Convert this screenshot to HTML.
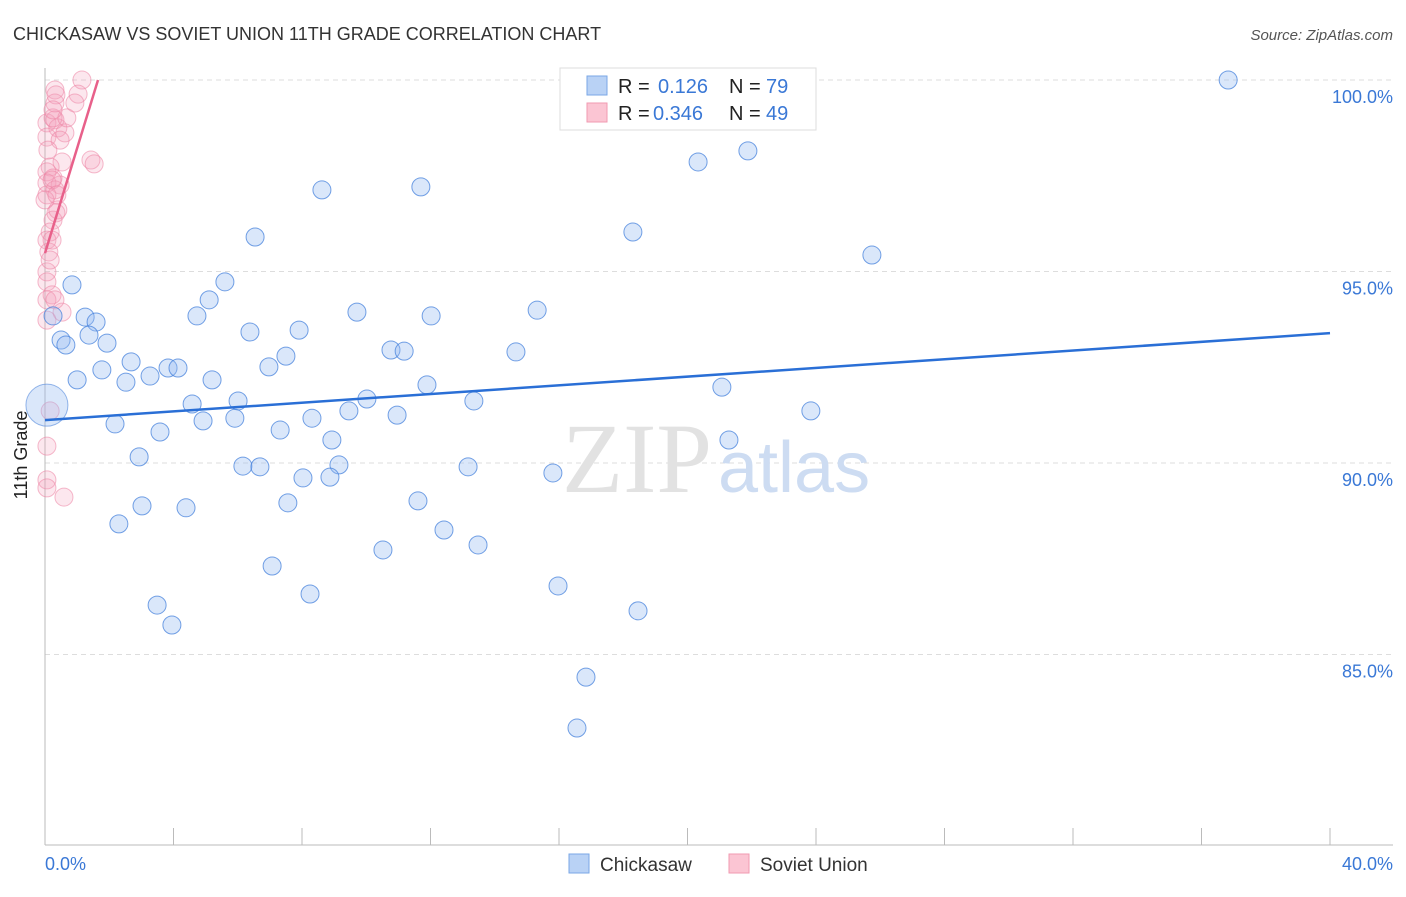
<!DOCTYPE html>
<html><head><meta charset="utf-8"><style>
body{margin:0;background:#fff;font-family:"Liberation Sans",sans-serif}
svg text{font-family:"Liberation Sans",sans-serif}
</style></head><body>
<svg width="1406" height="892" xmlns="http://www.w3.org/2000/svg">
<text x="13" y="40" font-size="18" fill="#333">CHICKASAW VS SOVIET UNION 11TH GRADE CORRELATION CHART</text>
<text x="1393" y="40" font-size="15" fill="#555" text-anchor="end" font-style="italic">Source: ZipAtlas.com</text>
<g id="grid"></g>
<text x="712" y="492" fill="#e2e2e2" text-anchor="end" style="font-family:'Liberation Serif',serif;font-size:100px">ZIP</text>
<text x="718" y="492" font-size="72" fill="#cddcf2">atlas</text>
<g id="axes"></g>
<g id="pink"></g>
<g id="blue"></g>
<g id="lines"></g>
<text x="27" y="455" font-size="18" fill="#222" text-anchor="middle" transform="rotate(-90 27 455)">11th Grade</text>
<text x="45" y="870" font-size="18" fill="#3a78d6">0.0%</text>
<text x="1393" y="870" font-size="18" fill="#3a78d6" text-anchor="end">40.0%</text>
<g>
<rect x="560" y="68" width="256" height="62" fill="#fff" stroke="#ddd"/>
<rect x="587" y="76" width="20" height="19" fill="#b9d2f5" stroke="#7aa7e6"/>
<text x="618" y="93" font-size="20" fill="#222">R =</text><text x="658" y="93" font-size="20" fill="#3a78d6">0.126</text>
<text x="729" y="93" font-size="20" fill="#222">N =</text><text x="766" y="93" font-size="20" fill="#3a78d6">79</text>
<rect x="587" y="103" width="20" height="19" fill="#fbc5d3" stroke="#f09ab2"/>
<text x="618" y="120" font-size="20" fill="#222">R =</text><text x="653" y="120" font-size="20" fill="#3a78d6">0.346</text>
<text x="729" y="120" font-size="20" fill="#222">N =</text><text x="766" y="120" font-size="20" fill="#3a78d6">49</text>
</g>
<g>
<rect x="569" y="854" width="20" height="19" fill="#b9d2f5" stroke="#7aa7e6"/>
<text x="600" y="871" font-size="19" fill="#333">Chickasaw</text>
<rect x="729" y="854" width="20" height="19" fill="#fbc5d3" stroke="#f09ab2"/>
<text x="760" y="871" font-size="19" fill="#333">Soviet Union</text>
</g>
</svg>
<script>
const blueX=[36.83,20.33,21.88,8.62,11.70,6.54,18.30,25.74,5.60,0.84,5.11,4.73,9.71,12.02,15.32,1.25,1.59,0.25,6.38,7.91,0.50,0.65,1.37,1.93,10.77,11.18,14.66,7.50,2.68,6.97,1.77,3.83,4.14,3.27,5.20,1.00,2.52,11.89,21.07,10.02,4.58,6.01,13.35,23.84,9.46,10.96,8.31,4.92,5.91,2.18,7.32,3.58,8.93,21.29,2.93,6.16,6.69,9.15,13.17,15.81,8.03,8.87,11.61,7.56,3.02,4.39,2.30,12.42,13.48,10.52,7.07,15.97,8.25,3.49,18.46,3.95,16.84,16.56];
const blueY=[100.0,97.86,98.15,97.13,97.21,95.90,96.03,95.43,94.73,94.65,94.26,93.84,93.94,93.84,93.99,93.81,93.68,93.84,93.42,93.47,93.21,93.08,93.34,93.13,92.95,92.92,92.90,92.79,92.64,92.51,92.43,92.48,92.48,92.27,92.17,92.17,92.11,92.04,91.98,91.67,91.54,91.62,91.62,91.36,91.36,91.25,91.17,91.10,91.17,91.02,90.86,90.81,90.60,90.60,90.16,89.92,89.90,89.95,89.90,89.74,89.61,89.63,89.01,88.96,88.88,88.83,88.41,88.25,87.86,87.73,87.31,86.79,86.58,86.29,86.14,85.77,84.41,83.08];
const bigX=[0.06], bigY=[91.51];
const pinkX=[1.15,0.31,1.03,0.31,0.93,0.06,0.31,0.40,0.62,0.06,0.25,1.43,1.53,0.53,0.16,0.06,0.25,0.06,0.47,0.31,0.06,0.34,0.25,0.16,0.06,0.12,0.06,0.06,0.22,0.06,0.53,0.06,0.16,0.06,0.06,0.06,0.59,0.40,0.22,0.00,0.47,0.68,0.34,0.09,0.16,0.22,0.31,0.37,0.25];
const pinkY=[100.0,99.74,99.63,99.40,99.40,98.88,98.96,98.75,98.62,98.51,99.01,97.91,97.81,97.86,97.73,97.60,97.44,97.31,97.26,97.13,97.00,96.53,96.34,96.03,95.82,95.51,94.99,94.73,94.39,94.26,93.94,93.73,91.36,90.44,89.56,89.35,89.11,96.61,97.39,96.87,98.43,99.01,99.61,98.17,95.30,95.82,94.26,97.00,99.22];
const yTicks=[100,95,90,85];
const blueTrend=[[0,91.12],[40,93.39]];
const pinkTrend=[[0,95.48],[1.65,100]];
const NS='http://www.w3.org/2000/svg';
const sx=v=>45+v*(1285/40), sy=v=>80+(100-v)*38.3;
function mk(t,a,p){const e=document.createElementNS(NS,t);for(const k in a)e.setAttribute(k,a[k]);p.appendChild(e);return e;}
const grid=document.getElementById('grid');
yTicks.forEach(t=>{
 const l=mk('line',{x1:45,x2:1393,y1:sy(t),y2:sy(t),stroke:'#ddd','stroke-dasharray':'5,4'},grid);
 
 
 const tx=mk('text',{x:1393,y:sy(t)+23,'font-size':18,fill:'#3a78d6','text-anchor':'end'},grid);
 tx.textContent=t.toFixed(1)+'%';
 
 
});
const axes=document.getElementById('axes');
mk('line',{x1:45,x2:45,y1:68,y2:845,stroke:'#bbb'},axes);
mk('line',{x1:45,x2:1393,y1:845,y2:845,stroke:'#bbb'},axes);
for(let i=0;i<=10;i++){mk('line',{x1:sx(i*4),x2:sx(i*4),y1:828,y2:845,stroke:'#bbb'},axes);}
const pg=document.getElementById('pink');
pinkX.forEach((x,i)=>{const c=mk('circle',{cx:sx(x),cy:sy(pinkY[i]),r:9,fill:'rgba(244,160,188,0.25)',stroke:'rgba(236,130,162,0.55)'},pg);
 
 });
const bg=document.getElementById('blue');
bigX.forEach((x,i)=>{const c=mk('circle',{cx:sx(x),cy:sy(bigY[i]),r:21,fill:'rgba(150,185,240,0.35)',stroke:'rgba(80,135,220,0.6)'},bg);
 
 });
blueX.forEach((x,i)=>{const c=mk('circle',{cx:sx(x),cy:sy(blueY[i]),r:9,fill:'rgba(150,185,240,0.35)',stroke:'rgba(70,130,220,0.75)'},bg);
 
 });
const lg=document.getElementById('lines');
const bl=mk('line',{x1:sx(blueTrend[0][0]),y1:sy(blueTrend[0][1]),x2:sx(blueTrend[1][0]),y2:sy(blueTrend[1][1]),stroke:'#2a6fd6','stroke-width':2.5},lg);


const pl=mk('line',{x1:sx(pinkTrend[0][0]),y1:sy(pinkTrend[0][1]),x2:sx(pinkTrend[1][0]),y2:sy(pinkTrend[1][1]),stroke:'#e8608a','stroke-width':2.5},lg);


</script>
</body></html>
